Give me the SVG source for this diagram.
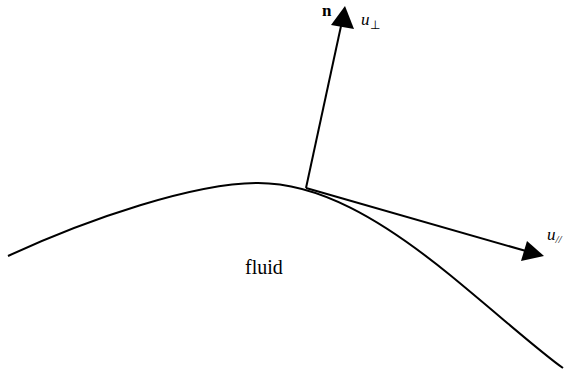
<svg xmlns="http://www.w3.org/2000/svg" width="564" height="378" viewBox="0 0 564 378">
<style>
.ln{fill:none;stroke:#000;stroke-width:2}
.t{font-family:"Liberation Serif","Times New Roman",serif;fill:#000}
</style>
<rect width="564" height="378" fill="#fff"/>
<g id="surface">
<path class="ln" d="M8,256 C90,218 195,183 258,183 C318,183 380,218 450,275 C500,316 540,352 563,368"/>
</g>
<g id="connectors">
<line class="ln" x1="306" y1="188" x2="341" y2="26"/>
<polygon points="345,6 331,25 354,29" fill="#000"/>
<line class="ln" x1="306" y1="188" x2="526" y2="251"/>
<polygon points="544,256 527,241 521,261" fill="#000"/>
</g>
<g id="labels">
<text class="t" x="322" y="16" font-size="17" font-weight="bold">n</text>
<text class="t" x="361" y="25" font-size="17" font-style="italic">u<tspan font-size="12" font-style="normal" dy="4">⊥</tspan></text>
<text class="t" x="547" y="240" font-size="17" font-style="italic">u<tspan font-size="11" dy="3">//</tspan></text>
<text class="t" x="245" y="274" font-size="20">fluid</text>
</g>
</svg>
